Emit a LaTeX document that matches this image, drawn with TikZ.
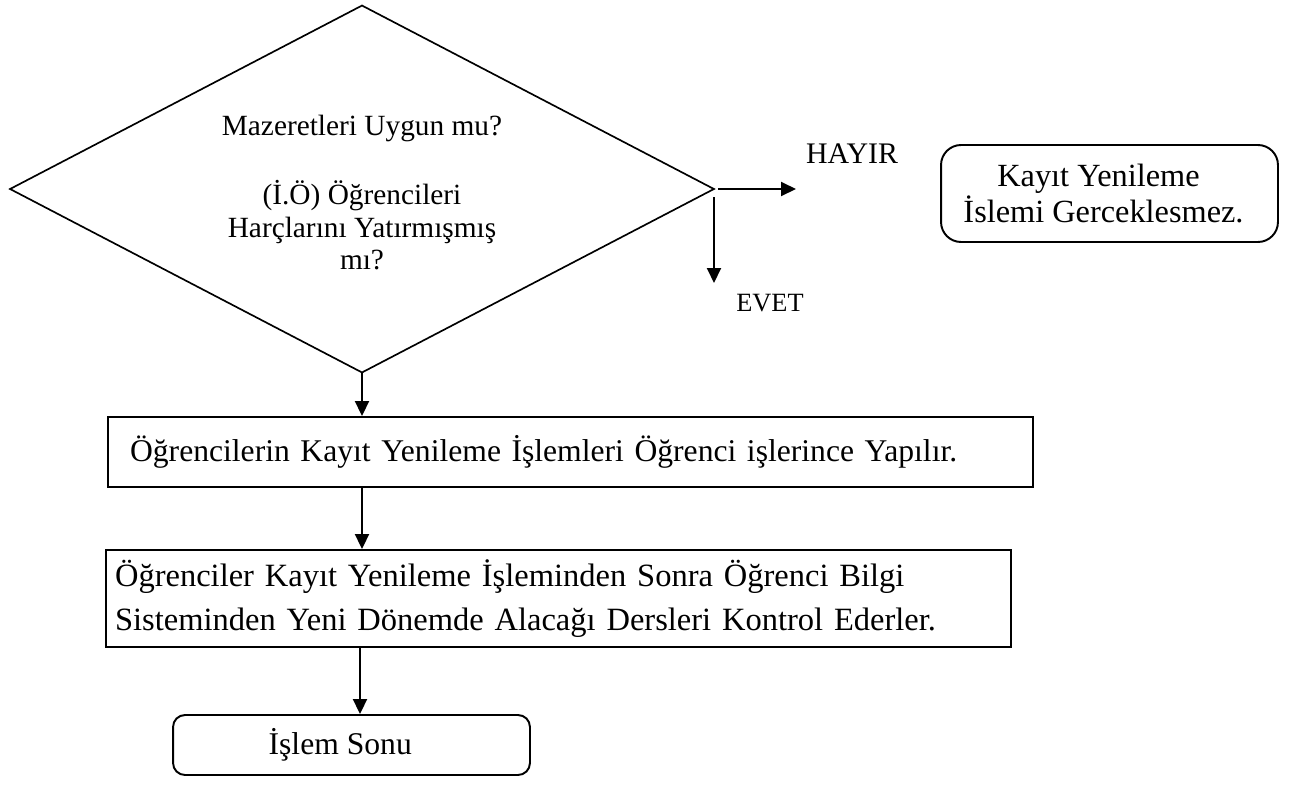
\documentclass[tikz,border=0pt]{standalone}
\usepackage{fontspec}
\setmainfont{Liberation Serif}
\usetikzlibrary{shapes.geometric,arrows.meta}
\tikzset{
  px/.style={x=0.02cm,y=-0.02cm},
  shapeline/.style={draw=black,line width=1.1pt},
  decision/.style={shape=diamond,draw=black,line width=0.95pt,inner sep=0pt,outer sep=0pt,
    shape aspect=1.92,minimum width=14.08cm,minimum height=7.34cm},
  dtextstyle/.style={align=center,inner sep=0pt,font=\fontsize{16.7}{18.5}\selectfont},
  procbox/.style={shapeline,rectangle,align=left},
  roundbox/.style={shapeline,rectangle,align=center,font=\fontsize{18.4}{21}\selectfont},
  flow/.style={draw=black,line width=1.1pt,-{Triangle[length=0.3cm,width=0.28cm]}}
}
\begin{document}
\begin{tikzpicture}[px]
\useasboundingbox (0,0) rectangle (1299,785);
\node[decision] (d) at (362,189) {};
\node[dtextstyle] (dt) at (362,193) {Mazeretleri Uygun mu?\\[0.73cm](İ.Ö) Öğrencileri\\Harçlarını Yatırmışmış\\mı?};
\node[procbox,font=\fontsize{18}{22}\selectfont,minimum height=1.4cm,inner xsep=0.44cm,text width=17.62cm] (b1) at (570.5,452)
  {Öğrencilerin Kayıt Yenileme İşlemleri Öğrenci işlerince Yapılır.};
\node[procbox,font=\fontsize{18.5}{25}\selectfont,minimum height=1.94cm,inner xsep=0.18cm,text width=17.74cm] (b2) at (558.5,598.5)
  {Öğrenciler Kayıt Yenileme İşleminden Sonra Öğrenci Bilgi\\Sisteminden Yeni Dönemde Alacağı Dersleri Kontrol Ederler.};
\node[roundbox,font=\fontsize{18}{21}\selectfont,rounded corners=0.24cm,minimum width=7.14cm,minimum height=1.2cm,inner sep=0pt] (e) at (351.5,745)
  {\hspace*{-0.45cm}İşlem Sonu};
\node[roundbox,rounded corners=0.4cm,minimum width=6.74cm,minimum height=1.94cm,inner sep=0pt] (k) at (1109.5,193.5)
  {\raisebox{-0.06cm}{\parbox{6cm}{\centering\hspace*{-0.2cm}Kayıt Yenileme\\İslemi Gerceklesmez.}}\hspace*{0.24cm}};
\coordinate (hay) at (796,189);
\coordinate (ev) at (714,283);
\node[font=\fontsize{17}{19}\selectfont,inner sep=0pt] (hl) at (852,154) {HAYIR};
\node[font=\fontsize{15}{18}\selectfont,inner sep=0pt] (el) at (770,303) {EVET};
\draw[flow] ([xshift=0.08cm]d.east) -- (hay);
\draw[flow] ([yshift=-0.16cm]ev |- d.east) -- (ev);
\draw[flow] (d.south) -- (d.south |- b1.north);
\draw[flow] (d.south |- b1.south) -- (d.south |- b2.north);
\draw[flow] ([xshift=-0.04cm]d.south |- b2.south) -- ([xshift=-0.04cm]d.south |- e.north);
\end{tikzpicture}
\end{document}
